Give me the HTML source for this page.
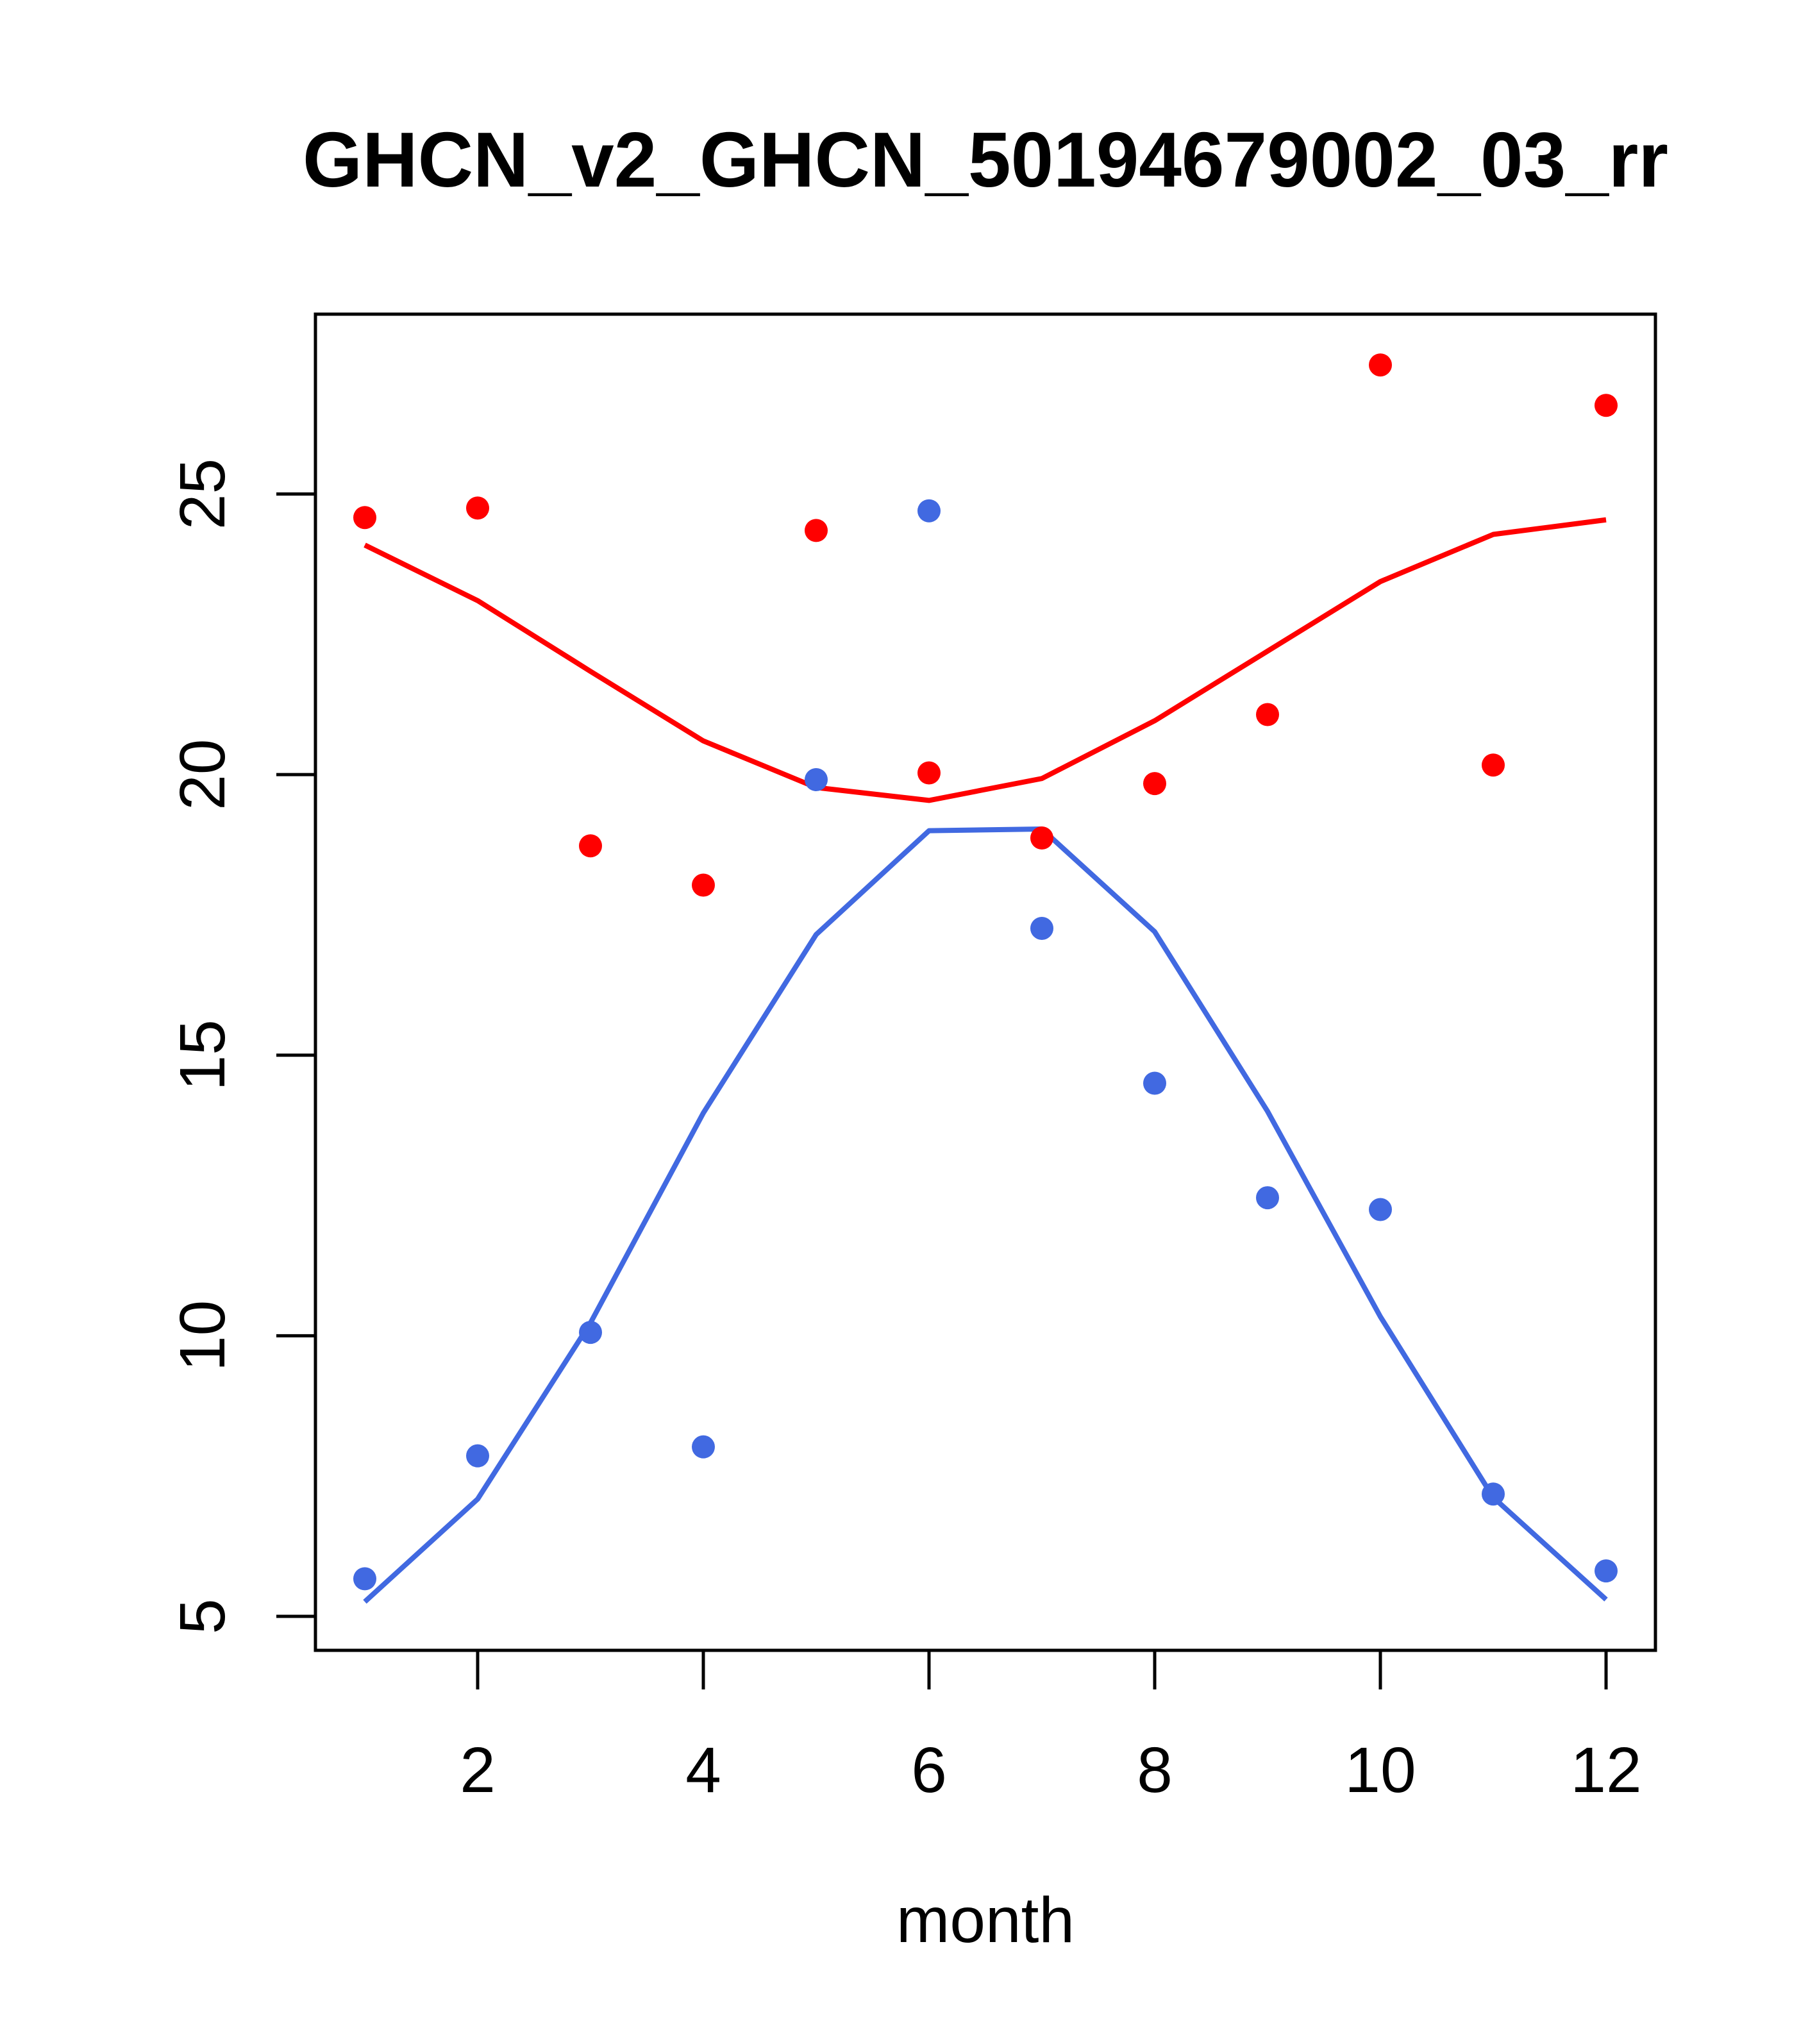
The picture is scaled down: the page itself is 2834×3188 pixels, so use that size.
<!DOCTYPE html>
<html><head><meta charset="utf-8"><style>html,body{margin:0;padding:0;background:#fff}svg{display:block}</style></head>
<body>
<svg id="chart" width="2834" height="3188" viewBox="0 0 2834 3188" xmlns="http://www.w3.org/2000/svg" font-family="Liberation Sans, Arial, sans-serif">
<rect width="2834" height="3188" fill="#fff"/>
<text x="1537" y="291" font-size="122" font-weight="bold" text-anchor="middle" textLength="2130" lengthAdjust="spacingAndGlyphs">GHCN_v2_GHCN_50194679002_03_rr</text>
<rect x="492" y="490" width="2090" height="2084" fill="none" stroke="#000" stroke-width="5"/>
<g id="xaxis"></g>
<g id="yaxis"></g>
<g id="series"></g>
<text x="1537" y="3029" font-size="100" text-anchor="middle">month</text>
</svg>
<script>
const months = [1,2,3,4,5,6,7,8,9,10,11,12];
const redPoints = [24.58,24.75,18.73,18.03,24.35,20.03,18.87,19.84,21.07,27.3,20.17,26.58];
const redLine = [24.09,23.1,21.84,20.6,19.77,19.54,19.93,20.96,22.2,23.44,24.28,24.54];
const bluePoints = [5.67,7.86,10.06,8.02,19.91,24.7,17.26,14.5,12.46,12.25,7.18,5.81];
const blueLine = [5.26,7.09,10.23,13.97,17.15,19.0,19.03,17.2,14.0,10.34,7.12,5.3];
const xTicks = [2,4,6,8,10,12];
const yTicks = [5,10,15,20,25];
const NS='http://www.w3.org/2000/svg';
function sx(m){return 569+(m-1)*(2505-569)/11;}
function sy(v){return 2521-(v-5)*(2521-770.5)/20;}
function mk(tag,attrs,parent){const e=document.createElementNS(NS,tag);for(const k in attrs)e.setAttribute(k,attrs[k]);parent.appendChild(e);return e;}
const xa=document.getElementById('xaxis'),ya=document.getElementById('yaxis'),sr=document.getElementById('series');
xTicks.forEach(t=>{
  const l=mk('line',{x1:sx(t),x2:sx(t),y1:2574,y2:2635,stroke:'#000','stroke-width':5},xa);
  
  
  const tx=mk('text',{x:sx(t),y:2795,'font-size':100,'text-anchor':'middle'},xa);
  tx.textContent=t;
  
  
});
yTicks.forEach(t=>{
  const l=mk('line',{x1:431,x2:492,y1:sy(t),y2:sy(t),stroke:'#000','stroke-width':5},ya);
  
  
  const tx=mk('text',{x:0,y:0,'font-size':100,'text-anchor':'middle',transform:'translate(350,'+sy(t)+') rotate(-90)'},ya);
  tx.textContent=t;
  
  
});
function line(vals,color,name){
  const p=mk('polyline',{points:vals.map((v,i)=>sx(months[i])+','+sy(v)).join(' '),fill:'none',stroke:color,'stroke-width':8,'stroke-linejoin':'round'},sr);
  
  
}
function pts(vals,color,name){
  vals.forEach((v,i)=>{
    const c=mk('circle',{cx:sx(months[i]),cy:sy(v),r:18,fill:color},sr);
    
    
  });
}
line(redLine,'#ff0000','red-line');
line(blueLine,'#4169e1','blue-line');
pts(redPoints,'#ff0000','red-point');
pts(bluePoints,'#4169e1','blue-point');
</script>
</body></html>
